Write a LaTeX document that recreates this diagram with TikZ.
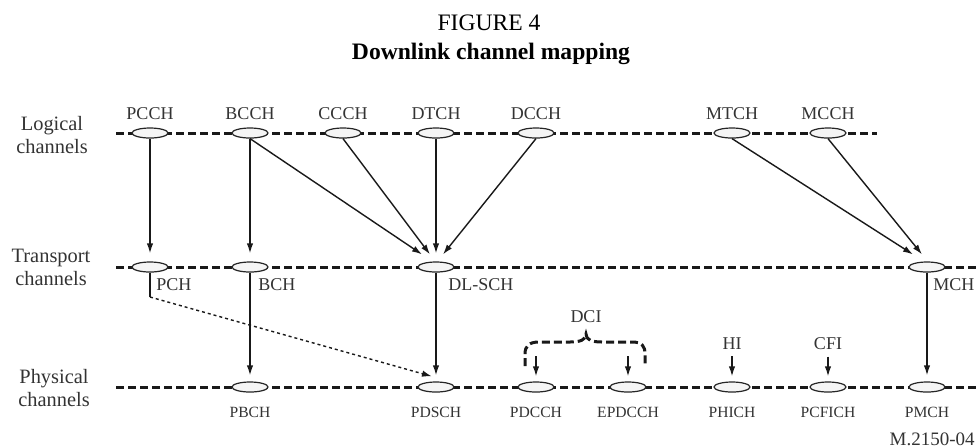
\documentclass[tikz,border=0pt]{standalone}
\usepackage{fontspec}
\setmainfont{Liberation Serif}
\usetikzlibrary{shapes.geometric,arrows.meta,calc}
\begin{document}
\begin{tikzpicture}[x=0.5pt,y=-0.5pt,
  chan/.style={ellipse,draw=black!85,line width=0.6pt,fill=black!4,minimum width=18pt,minimum height=5pt,inner sep=0pt},
  bus/.style={line width=1.5pt,draw=black!90,dash pattern=on 4pt off 2pt},
  conn/.style={line width=0.7pt,draw=black!90,-{Latex[length=5pt,width=3.2pt]}},
  dotconn/.style={line width=0.7pt,draw=black!90,dash pattern=on 1.5pt off 1.5pt,-{Latex[length=5pt,width=3.2pt]}},
  toplbl/.style={anchor=base,font=\fontsize{9}{10}\selectfont,text=black!80,inner sep=0pt},
  sidelbl/.style={anchor=base west,font=\fontsize{9}{10}\selectfont,text=black!80,inner sep=0pt},
  botlbl/.style={anchor=base,font=\fontsize{7.8}{9}\selectfont,text=black!80,inner sep=0pt},
  rowlbl/.style={align=center,font=\fontsize{10.2}{11.5}\selectfont,text=black!80,inner sep=0pt},
  titlelbl/.style={anchor=base,font=\fontsize{11.8}{13}\selectfont,inner sep=0pt}
]
\useasboundingbox (0,0) rectangle (976,447);

% title
\node[titlelbl] (fig) at (489,30.6) {FIGURE 4};
\node[titlelbl,font=\fontsize{11.8}{13}\selectfont\bfseries] (ttl) at (491,59.5) {Downlink channel mapping};

% row labels
\node[rowlbl] (rl) at (52,135) {Logical\\channels};
\node[rowlbl] (rt) at (51,267.5) {Transport\\channels};
\node[rowlbl] (rp) at (54,388) {Physical\\channels};

% buses
\coordinate (l1) at (116,133); \coordinate (l2) at (877,133);
\coordinate (t1) at (116,267); \coordinate (t2) at (976,267);
\coordinate (p1) at (116,387); \coordinate (p2) at (976,387);
\draw[bus] (l1) -- (l2);
\draw[bus] (t1) -- (t2);
\draw[bus] (p1) -- (p2);

% logical channels
\node[chan] (pcch) at (150,133) {};
\node[chan] (bcch) at (250,133) {};
\node[chan] (ccch) at (343,133) {};
\node[chan] (dtch) at (436,133) {};
\node[chan] (dcch) at (536,133) {};
\node[chan] (mtch) at (732,133) {};
\node[chan] (mcch) at (828,133) {};
\node[toplbl] (lpcch) at (150,119) {PCCH};
\node[toplbl] (lbcch) at (250,119) {BCCH};
\node[toplbl] (lccch) at (343,119) {CCCH};
\node[toplbl] (ldtch) at (436,119) {DTCH};
\node[toplbl] (ldcch) at (536,119) {DCCH};
\node[toplbl] (lmtch) at (732,119) {MTCH};
\node[toplbl] (lmcch) at (828,119) {MCCH};

% transport channels
\node[chan] (pch) at (150,267) {};
\node[chan] (bch) at (250,267) {};
\node[chan] (dlsch) at (436,267) {};
\node[chan] (mch) at (927,267) {};
\node[sidelbl] (lpch) at (156,290) {PCH};
\node[sidelbl] (lbch) at (258,290) {BCH};
\node[sidelbl] (ldlsch) at (448,290) {DL-SCH};
\node[sidelbl] (lmch) at (933,290) {MCH};

% physical channels
\node[chan] (pbch) at (250,387) {};
\node[chan] (pdsch) at (436,387) {};
\node[chan] (pdcch) at (536,387) {};
\node[chan] (epdcch) at (628,387) {};
\node[chan] (phich) at (732,387) {};
\node[chan] (pcfich) at (828,387) {};
\node[chan] (pmch) at (927,387) {};
\node[botlbl] (lpbch) at (250,417) {PBCH};
\node[botlbl] (lpdsch) at (436,417) {PDSCH};
\node[botlbl] (lpdcch) at (536,417) {PDCCH};
\node[botlbl] (lepdcch) at (628,417) {EPDCCH};
\node[botlbl] (lphich) at (732,417) {PHICH};
\node[botlbl] (lpcfich) at (828,417) {PCFICH};
\node[botlbl] (lpmch) at (927,417) {PMCH};

% control info
\node[toplbl] (dci) at (586,322) {DCI};
\node[toplbl] (hi) at (732,349) {HI};
\node[toplbl] (cfi) at (828,349) {CFI};
\node[toplbl,anchor=base east,font=\fontsize{9.5}{10}\selectfont] (ref) at (975,445) {M.2150-04};

% brace
\draw[bus] (525,366) -- (525,354) .. controls (525,346) and (529,342) .. (539,342) -- (570,342)
  .. controls (580,342) and (586,340) .. (586,334)
  .. controls (586,340) and (592,342) .. (602,342) -- (632,342)
  .. controls (642,342) and (645,346) .. (645,354) -- (645,366);

% logical -> transport
\draw[conn] (pcch.south) -- ($(pch.north)+(0,-8)$);
\draw[conn] (bcch.south) -- ($(bch.north)+(0,-8)$);
\draw[conn] (bcch.south) -- ($(dlsch.north)+(-14,-7)$);
\draw[conn] (ccch.south) -- ($(dlsch.north)+(-6,-7)$);
\draw[conn] (dtch.south) -- ($(dlsch.north)+(0,-8)$);
\draw[conn] (dcch.south) -- ($(dlsch.north)+(7,-7)$);
\draw[conn] (mtch.south) -- ($(mch.north)+(-14,-7)$);
\draw[conn] (mcch.south) -- ($(mch.north)+(-5,-7)$);

% transport -> physical
\coordinate (pchk) at (150,297);
\draw[line width=0.7pt,draw=black!90] (pch.south) -- (pchk);
\draw[dotconn] (pchk) -- ($(pdsch.north)+(-4,-5)$);
\draw[conn] (bch.south) -- ($(pbch.north)+(0,-6)$);
\draw[conn] (dlsch.south) -- ($(pdsch.north)+(0,-6)$);
\draw[conn] (mch.south) -- ($(pmch.north)+(0,-6)$);

% control info arrows
\coordinate (dcia) at (536,356);
\coordinate (dcib) at (628,356);
\draw[conn] (dcia) -- ($(pdcch.north)+(0,-5)$);
\draw[conn] (dcib) -- ($(epdcch.north)+(0,-5)$);
\draw[conn] ($(hi.south)+(0,7)$) -- ($(phich.north)+(0,-5)$);
\draw[conn] ($(cfi.south)+(0,7)$) -- ($(pcfich.north)+(0,-5)$);
\end{tikzpicture}
\end{document}
